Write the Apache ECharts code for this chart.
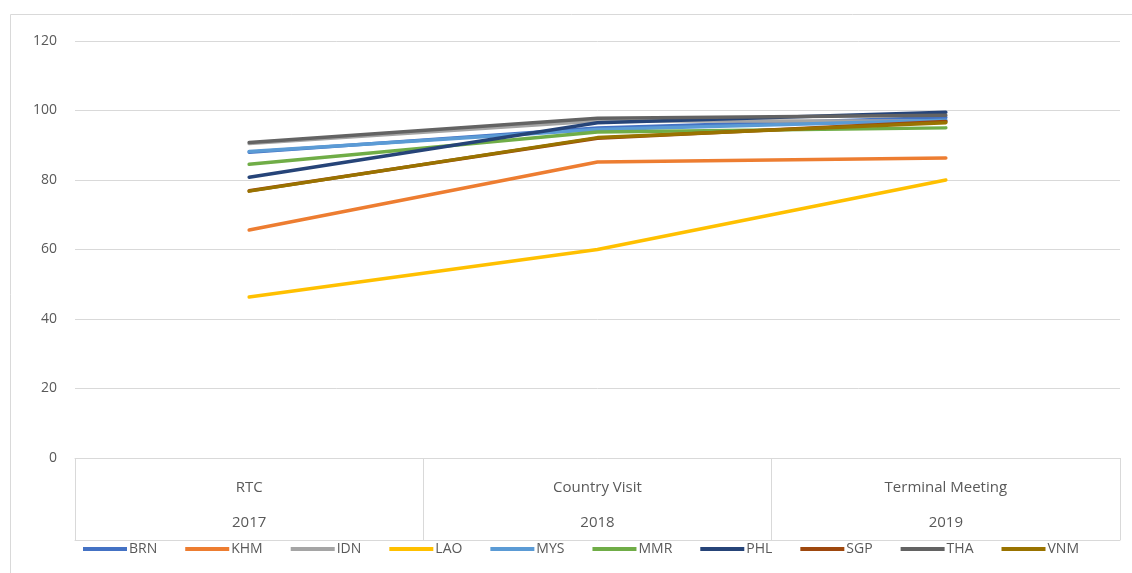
<!DOCTYPE html>
<html>
<head>
<meta charset="utf-8">
<script src="https://cdn.jsdelivr.net/npm/echarts@6/dist/echarts.min.js"></script>
<style>
  html, body { margin: 0; padding: 0; background: #fff; }
  #chart { width: 1132px; height: 573px; }
</style>
</head>
<body>
<div id="chart"></div>
<script>
const stages = ['RTC', 'Country Visit', 'Terminal Meeting']
const years = ['2017', '2018', '2019']
const yTicks = [0, 20, 40, 60, 80, 100, 120]

const BRN = [88.0, 95.0, 98.0]
const KHM = [65.6, 85.2, 86.3]
const IDN = [90.5, 97.0, 97.0]
const LAO = [46.3, 60.0, 80.0]
const MYS = [88.2, 94.5, 97.2]
const MMR = [84.5, 93.8, 95.0]
const PHL = [80.8, 96.5, 99.5]
const SGP = [76.9, 92.0, 96.8]
const THA = [90.8, 97.8, 98.6]
const VNM = [76.8, 92.2, 96.5]

const seriesList = [
  { name: 'BRN', data: BRN, color: '#4472C4' },
  { name: 'KHM', data: KHM, color: '#ED7D31' },
  { name: 'IDN', data: IDN, color: '#A5A5A5' },
  { name: 'LAO', data: LAO, color: '#FFC000' },
  { name: 'MYS', data: MYS, color: '#5B9BD5' },
  { name: 'MMR', data: MMR, color: '#70AD47' },
  { name: 'PHL', data: PHL, color: '#264478' },
  { name: 'SGP', data: SGP, color: '#9E480E' },
  { name: 'THA', data: THA, color: '#636363' },
  { name: 'VNM', data: VNM, color: '#997300' }
]

const chart = echarts.init(document.getElementById('chart'))
const font = '"Open Sans", "Liberation Sans", sans-serif'

chart.setOption({
  animation: false,
  textStyle: { fontFamily: font },
  graphic: [{
    type: 'rect',
    shape: { x: 10.5, y: 14.5, width: 1130, height: 570 },
    style: { fill: 'none', stroke: '#d9d9d9', lineWidth: 1 },
    silent: true
  }],
  grid: { left: 75, right: 12, top: 41, bottom: 115 },
  legend: {
    bottom: 12,
    left: 78,
    icon: 'rect',
    itemWidth: 44,
    itemHeight: 4,
    itemGap: 28,
    textStyle: { color: '#595959', fontSize: 14, fontFamily: font, padding: [0, 0, 0, -3] },
    data: seriesList.map(s => s.name)
  },
  xAxis: [{
    type: 'category',
    data: stages.map((s, i) => s + '\n' + years[i]),
    boundaryGap: true,
    axisLine: { lineStyle: { color: '#d9d9d9' } },
    axisTick: { show: true, length: 82, lineStyle: { color: '#d9d9d9' } },
    axisLabel: {
      margin: 12,
      color: '#595959',
      fontSize: 15,
      lineHeight: 35,
      fontFamily: font
    }
  }, {
    type: 'category',
    data: stages,
    position: 'bottom',
    offset: 82,
    axisLine: { lineStyle: { color: '#d9d9d9' } },
    axisTick: { show: false },
    axisLabel: { show: false }
  }],
  yAxis: {
    type: 'value',
    min: yTicks[0],
    max: yTicks[yTicks.length - 1],
    interval: 20,
    axisLine: { show: false },
    axisTick: { show: false },
    axisLabel: { color: '#595959', fontSize: 14, margin: 18, fontFamily: font },
    splitLine: { lineStyle: { color: '#d9d9d9' } }
  },
  series: seriesList.map(s => ({
    name: s.name,
    type: 'line',
    data: s.data,
    symbol: 'none',
    color: s.color,
    lineStyle: { width: 3.5, color: s.color, cap: 'round' }
  }))
})
</script>
</body>
</html>
